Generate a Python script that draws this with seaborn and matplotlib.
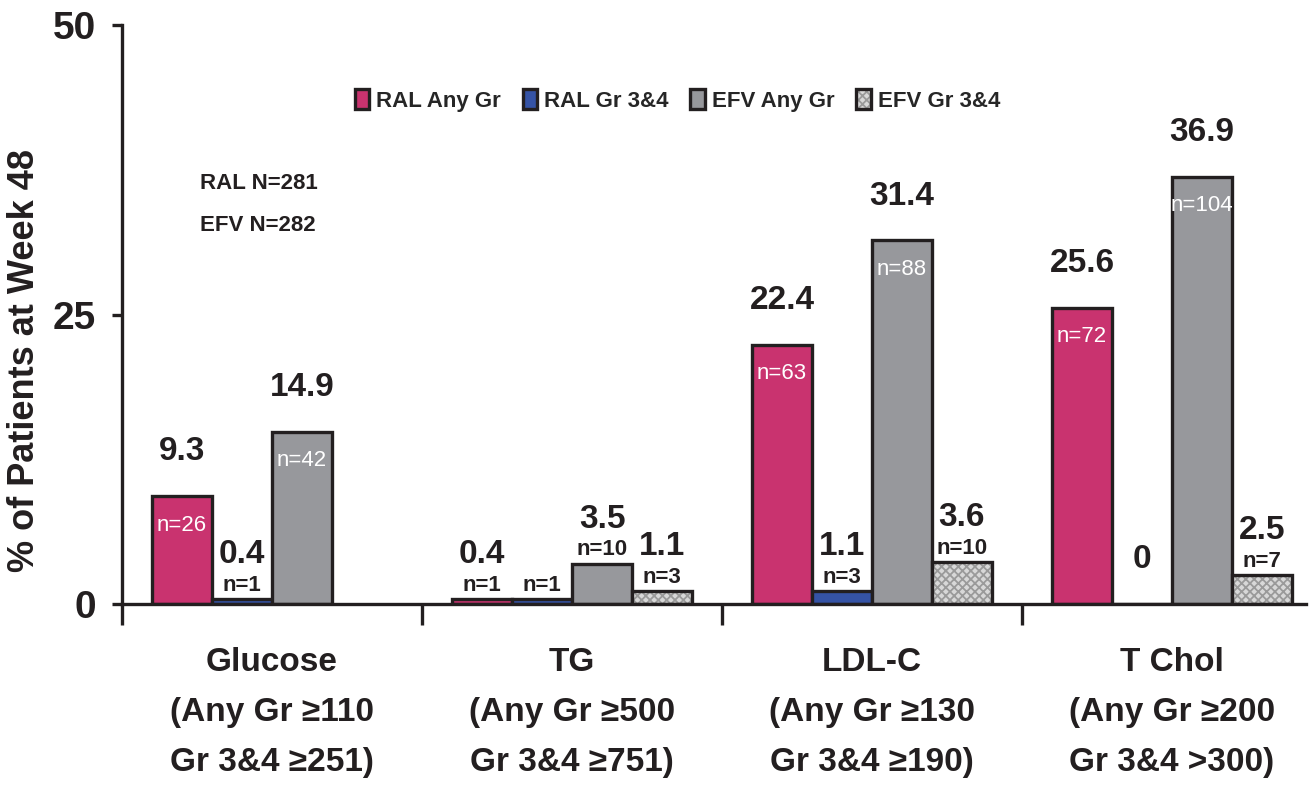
import matplotlib
matplotlib.use("Agg")
import pandas as pd
import matplotlib.pyplot as plt
import matplotlib.patches as mpatches
from matplotlib.colors import to_rgba
import seaborn as sns

# Werte aus der Vorlage
tests = ["Glucose\n(Any Gr \u2265110\nGr 3&4 \u2265251)",
         "TG\n(Any Gr \u2265500\nGr 3&4 \u2265751)",
         "LDL-C\n(Any Gr \u2265130\nGr 3&4 \u2265190)",
         "T Chol\n(Any Gr \u2265200\nGr 3&4 >300)"]
groups = ["RAL Any Gr", "RAL Gr 3&4", "EFV Any Gr", "EFV Gr 3&4"]

ral_any = [9.3, 0.4, 22.4, 25.6]
ral_g34 = [0.4, 0.4, 1.1, 0.0]
efv_any = [14.9, 3.5, 31.4, 36.9]
efv_g34 = [None, 1.1, 3.6, 2.5]

ral_any_n = [26, 1, 63, 72]
ral_g34_n = [1, 1, 3, None]
efv_any_n = [42, 10, 88, 104]
efv_g34_n = [None, 3, 10, 7]

# TG: RAL Gr 3&4 hat kein eigenes Prozent-Label
no_value_label = [(1, 1)]

colors = ["#C9336F", "#3553A5", "#97989C", "#D8D8D8"]
ink = "#231f20"
hatch_grey = "#9a9a9a"

pct = [ral_any, ral_g34, efv_any, efv_g34]
counts = [ral_any_n, ral_g34_n, efv_any_n, efv_g34_n]

rows = []
for g, vals in zip(groups, pct):
    for t, v in zip(tests, vals):
        if v is not None:
            rows.append((t, g, v))
df = pd.DataFrame(rows, columns=["test", "group", "pct"])

sns.set_style("ticks")
plt.rcParams["font.family"] = ["Liberation Sans", "DejaVu Sans"]
plt.rcParams["hatch.linewidth"] = 1.3


def grey_hatch(p):
    p.set_hatch("xxxx")
    if hasattr(p, "set_hatchcolor"):
        p.set_hatchcolor(hatch_grey)
    else:
        p._hatch_color = to_rgba(hatch_grey)


fig = plt.figure(figsize=(13.11, 8.01), dpi=100)
ax = fig.add_axes([0.0931, 0.2459, 0.9031, 0.7228])

sns.barplot(data=df, x="test", y="pct", hue="group", order=tests, hue_order=groups,
            palette=colors, saturation=1, width=0.8, edgecolor=ink, linewidth=2.4,
            errorbar=None, legend=False, ax=ax)

for bar in ax.containers[3]:
    grey_hatch(bar)

# Beschriftungen
for h, cont in enumerate(ax.containers):
    for bar in cont:
        cx = bar.get_x() + bar.get_width() / 2
        i = int(round(cx))
        v = pct[h][i]
        n = counts[h][i]
        top = bar.get_height()
        if (i, h) not in no_value_label:
            ax.annotate(f"{v:g}", (cx, top), xytext=(0, 32), textcoords="offset points",
                        ha="center", va="center", fontsize=24, fontweight="bold", color=ink)
        if n is not None:
            if v >= 5:
                ax.annotate(f"n={n}", (cx, top), xytext=(0, -21), textcoords="offset points",
                            ha="center", va="center", fontsize=16, color="white")
            else:
                ax.annotate(f"n={n}", (cx, top), xytext=(0, 10), textcoords="offset points",
                            ha="center", va="center", fontsize=16, fontweight="bold", color=ink)

# Legende
handles = []
for g, c in zip(groups, colors):
    p = mpatches.Patch(facecolor=c, edgecolor=ink, linewidth=2.4, label=g)
    handles.append(p)
grey_hatch(handles[3])
ax.legend(handles=handles, loc="center left", bbox_to_anchor=(0.187, 0.87), ncol=4,
          frameon=False, borderpad=0, handlelength=0.65, handleheight=1.0, handletextpad=0.3,
          columnspacing=1.0, prop={"size": 16, "weight": "bold"})

ax.text(0.066, 0.727, "RAL N=281", transform=ax.transAxes, fontsize=16, fontweight="bold",
        color=ink, va="center", ha="left")
ax.text(0.066, 0.653, "EFV N=282", transform=ax.transAxes, fontsize=16, fontweight="bold",
        color=ink, va="center", ha="left")

# Achsen
ax.set_ylim(0, 50)
ax.set_yticks([0, 25, 50])
ax.set_xlim(-0.5, 3.447)
ax.set_xticks([-0.5, 0.5, 1.5, 2.5], minor=True)
ax.tick_params(axis="x", which="major", length=0, pad=31, labelsize=24, labelcolor=ink)
ax.tick_params(axis="x", which="minor", length=15, width=2.4, color=ink)
ax.tick_params(axis="y", length=7, width=2.4, pad=12, labelsize=28, color=ink, labelcolor=ink)
for lbl in ax.get_xticklabels() + ax.get_yticklabels():
    lbl.set_fontweight("bold")
for lbl in ax.get_xticklabels():
    lbl.set_linespacing(1.8)

ax.set_xlabel("")
ax.set_ylabel("% of Patients at Week 48", fontsize=26, fontweight="bold", color=ink)
ax.yaxis.set_label_coords(-0.0676, 0.421)

sns.despine(ax=ax)
for s in ["left", "bottom"]:
    ax.spines[s].set_linewidth(2.4)
    ax.spines[s].set_color(ink)

fig.savefig("out.png", dpi=100)
